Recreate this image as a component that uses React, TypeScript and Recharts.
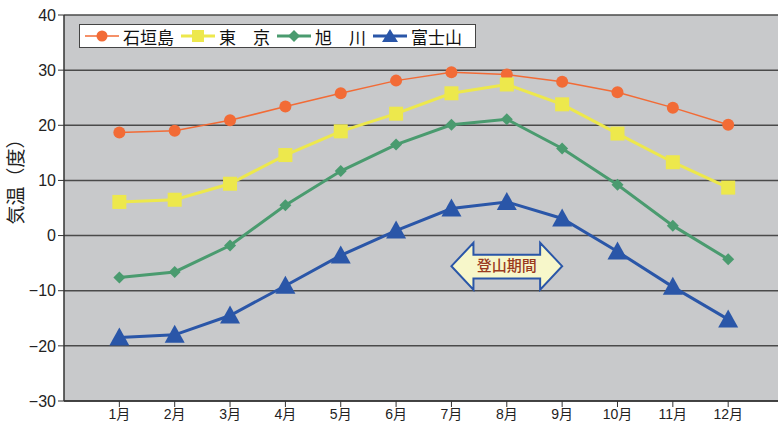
import React from "react";
import {
  LineChart,
  Line,
  XAxis,
  YAxis,
  CartesianGrid,
  ReferenceArea,
} from "recharts";

const months = [1, 2, 3, 4, 5, 6, 7, 8, 9, 10, 11, 12];
const yTicks = [-30, -20, -10, 0, 10, 20, 30, 40];
const ishigaki = [18.7, 19.0, 20.9, 23.4, 25.8, 28.1, 29.6, 29.2, 27.9, 26.0, 23.2, 20.1];
const tokyo = [6.1, 6.5, 9.4, 14.6, 18.9, 22.1, 25.8, 27.4, 23.8, 18.5, 13.3, 8.7];
const asahikawa = [-7.6, -6.6, -1.8, 5.5, 11.7, 16.5, 20.1, 21.1, 15.8, 9.2, 1.8, -4.3];
const fuji = [-18.5, -18.0, -14.5, -9.1, -3.6, 0.9, 4.9, 6.1, 3.1, -2.9, -9.3, -15.2];

const seriesNames = ["石垣島", "東\u3000京", "旭\u3000川", "富士山"];
const climbLabel = "登山期間";

const data = months.map((m, i) => ({
  m,
  ishigaki: ishigaki[i],
  tokyo: tokyo[i],
  asahikawa: asahikawa[i],
  fuji: fuji[i],
}));

const FONT = "'Liberation Sans', Arial, 'Noto Sans CJK JP', sans-serif";
const JP_FONT = "'Noto Sans CJK JP', 'Liberation Sans', sans-serif";

const ORANGE = "#F26B36";
const YELLOW = "#EDE84C";
const GREEN = "#4A9B6F";
const BLUE = "#2A56A8";

const Circle = (p: any) => <circle cx={p.cx} cy={p.cy} r={6} fill={ORANGE} />;
const Square = (p: any) => (
  <rect x={p.cx - 7} y={p.cy - 7} width={14} height={14} fill={YELLOW} />
);
const Diamond = (p: any) => (
  <polygon
    points={`${p.cx},${p.cy - 6} ${p.cx + 6},${p.cy} ${p.cx},${p.cy + 6} ${p.cx - 6},${p.cy}`}
    fill={GREEN}
  />
);
const Triangle = (p: any) => (
  <polygon
    points={`${p.cx},${p.cy - 10} ${p.cx + 10},${p.cy + 8} ${p.cx - 10},${p.cy + 8}`}
    fill={BLUE}
  />
);

const legendItems = [
  { name: seriesNames[0], color: ORANGE, w: 1.5, marker: "circle" },
  { name: seriesNames[1], color: YELLOW, w: 3, marker: "square" },
  { name: seriesNames[2], color: GREEN, w: 3, marker: "diamond" },
  { name: seriesNames[3], color: BLUE, w: 3, marker: "triangle" },
];

const LegendBox = () => (
  <div
    style={{
      position: "absolute",
      left: 79,
      top: 24,
      display: "flex",
      alignItems: "center",
      background: "#fff",
      border: "1px solid #444",
      height: 22,
      padding: "0 6px 0 5px",
      fontFamily: JP_FONT,
      fontSize: 17,
      color: "#111",
      whiteSpace: "nowrap",
      zIndex: 2,
    }}
  >
    {legendItems.map((it) => (
      <span key={it.name} style={{ display: "inline-flex", alignItems: "center", marginRight: 7 }}>
        <svg width={34} height={16} style={{ marginRight: 4 }}>
          <line x1={0} y1={8} x2={34} y2={8} stroke={it.color} strokeWidth={it.w} />
          {it.marker === "circle" && <circle cx={17} cy={8} r={5.5} fill={it.color} />}
          {it.marker === "square" && <rect x={11} y={2} width={12} height={12} fill={it.color} />}
          {it.marker === "diamond" && (
            <polygon points="17,2 23,8 17,14 11,8" fill={it.color} />
          )}
          {it.marker === "triangle" && (
            <polygon points="17,1 25,14 9,14" fill={it.color} />
          )}
        </svg>
        {it.name}
      </span>
    ))}
  </div>
);

const ArrowShape = (p: any) => {
  const { x, y, width: w, height: h } = p;
  const hd = 22;
  const pts = [
    [x, y + h / 2],
    [x + hd, y],
    [x + hd, y + 12],
    [x + w - hd, y + 12],
    [x + w - hd, y],
    [x + w, y + h / 2],
    [x + w - hd, y + h],
    [x + w - hd, y + h - 11],
    [x + hd, y + h - 11],
    [x + hd, y + h],
  ]
    .map((q) => q.join(","))
    .join(" ");
  return (
    <g>
      <polygon points={pts} fill="#F7F7CA" stroke={BLUE} strokeWidth={2} />
      <text
        x={x + w / 2}
        y={y + h / 2 + 1}
        textAnchor="middle"
        dominantBaseline="middle"
        fontFamily={JP_FONT}
        fontSize={15}
        fontWeight={500}
        fill="#9A3A1E"
      >
        {climbLabel}
      </text>
    </g>
  );
};

export default function App() {
  return (
    <div
      style={{
        position: "absolute",
        left: 0,
        top: 0,
        width: 778,
        height: 429,
        background: "#fff",
      }}
    >
      <LegendBox />
      <LineChart
        width={778}
        height={429}
        data={data}
        margin={{ top: 15, right: 0, left: 0, bottom: 0 }}
      >
        <CartesianGrid
          vertical={false}
          fill="#C8C9CB"
          stroke="#4a4a4a"
          strokeWidth={1.5}
          fillOpacity={1}
        />
        <XAxis
          type="number"
          dataKey="m"
          domain={[0, 12.9]}
          ticks={months}
          allowDataOverflow
          tickFormatter={(v) => `${v}月`}
          height={28}
          tickSize={6}
          axisLine={{ stroke: "#333", strokeWidth: 1.5 }}
          tickLine={{ stroke: "#333" }}
          tick={{ fontFamily: FONT, fontSize: 14, fill: "#222" }}
        />
        <YAxis
          domain={[-30, 40]}
          ticks={yTicks}
          width={64}
          tickSize={6}
          interval={0}
          axisLine={{ stroke: "#333", strokeWidth: 1.5 }}
          tickLine={{ stroke: "#333" }}
          tick={{ fontFamily: FONT, fontSize: 16, fill: "#222" }}
          tickFormatter={(v) => (v < 0 ? `\u2212${-v}` : `${v}`)}
          label={{
            value: "気温（度）",
            angle: -90,
            position: "insideLeft",
            dx: 11,
            dy: -31,
            style: { fontFamily: JP_FONT, fontSize: 19, fill: "#222", textAnchor: "middle" },
          }}
        />
        <ReferenceArea
          x1={7}
          x2={9}
          y1={-1.3}
          y2={-9.8}
          shape={<ArrowShape />}
        />
        <Line
          type="linear"
          dataKey="ishigaki"
          name={seriesNames[0]}
          stroke={ORANGE}
          strokeWidth={1.5}
          dot={<Circle />}
          activeDot={false}
          isAnimationActive={false}
        />
        <Line
          type="linear"
          dataKey="tokyo"
          name={seriesNames[1]}
          stroke={YELLOW}
          strokeWidth={3}
          dot={<Square />}
          activeDot={false}
          isAnimationActive={false}
        />
        <Line
          type="linear"
          dataKey="asahikawa"
          name={seriesNames[2]}
          stroke={GREEN}
          strokeWidth={3}
          dot={<Diamond />}
          activeDot={false}
          isAnimationActive={false}
        />
        <Line
          type="linear"
          dataKey="fuji"
          name={seriesNames[3]}
          stroke={BLUE}
          strokeWidth={3}
          dot={<Triangle />}
          activeDot={false}
          isAnimationActive={false}
        />
      </LineChart>
    </div>
  );
}
